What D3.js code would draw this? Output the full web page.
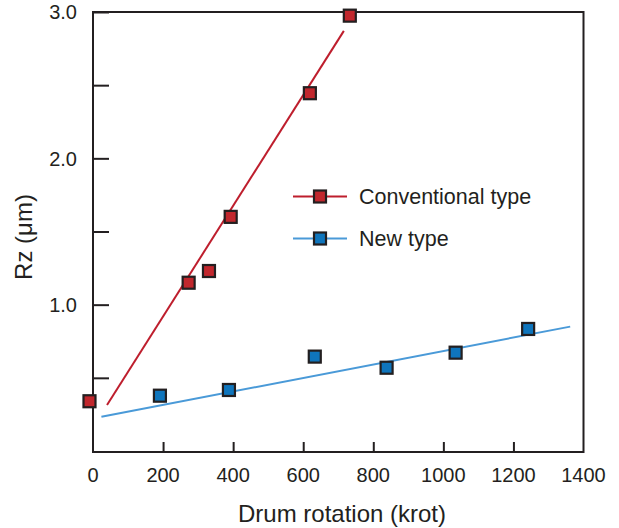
<!DOCTYPE html>
<html>
<head>
<meta charset="utf-8">
<script src="https://cdn.jsdelivr.net/npm/d3@7"></script>
<style>
  html, body { margin: 0; padding: 0; background: #fff; }
  svg { display: block; font-family: "Liberation Sans", Arial, Helvetica, sans-serif; }
</style>
</head>
<body>
<svg id="chart" width="619" height="528"></svg>
<script>
// ---- data ----
const convX = [-10, 273, 331, 393, 619, 733];
const convY = [0.34, 1.15, 1.23, 1.60, 2.445, 2.975];
const newX = [191, 388, 633, 838, 1035, 1242];
const newY = [0.378, 0.417, 0.645, 0.569, 0.672, 0.834];
const fitConvX = [40, 716];
const fitConvY = [0.314, 2.871];
const fitNewX = [24, 1362];
const fitNewY = [0.234, 0.850];
const xTicks = [0, 200, 400, 600, 800, 1000, 1200, 1400];
const yTicks = [0.5, 1.0, 1.5, 2.0, 2.5, 3.0];
const yTickLabels = ["", "1.0", "", "2.0", "", "3.0"];
const seriesNames = ["Conventional type", "New type"];

// ---- layout ----
const svg = d3.select("#chart");
const L = 93, R = 583.5, T = 12, B = 452;
const x = d3.scaleLinear().domain([0, 1400]).range([L, R]);
const y = d3.scaleLinear().domain([0, 3]).range([B - 1, T]);
const ink = "#231f20";
const redFill = "#c1272d", redLine = "#be1e2d";
const blueFill = "#0f75bc", blueLine = "#4a9ad8";
const sq = 12;

// frame
svg.append("rect")
  .attr("x", L).attr("y", T).attr("width", R - L).attr("height", B - T)
  .attr("fill", "none").attr("stroke", ink).attr("stroke-width", 2);

// y axis ticks (inward)
const yAxis = d3.axisRight(y).tickValues(yTicks).tickSize(16).tickFormat("");
const gy = svg.append("g").attr("transform", `translate(${L},0)`).call(yAxis);
gy.select(".domain").remove();
gy.selectAll(".tick line").attr("stroke", ink).attr("stroke-width", 2);
svg.append("g").selectAll("text").data(yTicks).join("text")
  .attr("x", 77).attr("y", d => y(d))
  .attr("dy", "0.36em")
  .attr("text-anchor", "end")
  .attr("font-size", 20).attr("fill", ink)
  .text((d, i) => yTickLabels[i]);

// x axis ticks (inward)
const xAxis = d3.axisTop(x).tickValues(xTicks.filter(d => d > 0 && d < 1400)).tickSize(10).tickFormat("");
const gx = svg.append("g").attr("transform", `translate(0,${B})`).call(xAxis);
gx.select(".domain").remove();
gx.selectAll(".tick line").attr("stroke", ink).attr("stroke-width", 2);
svg.append("g").selectAll("text").data(xTicks).join("text")
  .attr("x", d => x(d)).attr("y", 482)
  .attr("text-anchor", "middle")
  .attr("font-size", 20).attr("fill", ink)
  .text(d => d);

// axis titles
svg.append("text")
  .attr("x", 342).attr("y", 522)
  .attr("text-anchor", "middle").attr("font-size", 24).attr("fill", ink)
  .text("Drum rotation (krot)");
svg.append("text")
  .attr("transform", "translate(32,237) rotate(-90)")
  .attr("text-anchor", "middle").attr("font-size", 24).attr("fill", ink)
  .text("Rz (μm)");

// fit lines
const line = d3.line().x(d => x(d[0])).y(d => y(d[1]));
svg.append("path").datum(d3.zip(fitConvX, fitConvY))
  .attr("d", line).attr("fill", "none").attr("stroke", redLine).attr("stroke-width", 2);
svg.append("path").datum(d3.zip(fitNewX, fitNewY))
  .attr("d", line).attr("fill", "none").attr("stroke", blueLine).attr("stroke-width", 2);

// markers
function markers(xs, ys, fill) {
  svg.append("g").selectAll("rect").data(d3.zip(xs, ys)).join("rect")
    .attr("x", d => x(d[0]) - sq / 2).attr("y", d => y(d[1]) - sq / 2)
    .attr("width", sq).attr("height", sq)
    .attr("fill", fill).attr("stroke", ink).attr("stroke-width", 2.2);
}
markers(convX, convY, redFill);
markers(newX, newY, blueFill);

// legend
const legend = [
  { name: seriesNames[0], line: redLine, fill: redFill, cy: 196.5 },
  { name: seriesNames[1], line: blueLine, fill: blueFill, cy: 238.5 }
];
const lg = svg.append("g").selectAll("g").data(legend).join("g");
lg.append("line").attr("x1", 293).attr("x2", 347)
  .attr("y1", d => d.cy).attr("y2", d => d.cy)
  .attr("stroke", d => d.line).attr("stroke-width", 2);
lg.append("rect").attr("x", 320 - sq / 2).attr("y", d => d.cy - sq / 2)
  .attr("width", sq).attr("height", sq)
  .attr("fill", d => d.fill).attr("stroke", ink).attr("stroke-width", 2.2);
lg.append("text").attr("x", 359).attr("y", d => d.cy + 7)
  .attr("font-size", 21.5).attr("fill", ink)
  .text(d => d.name);
</script>
</body>
</html>
